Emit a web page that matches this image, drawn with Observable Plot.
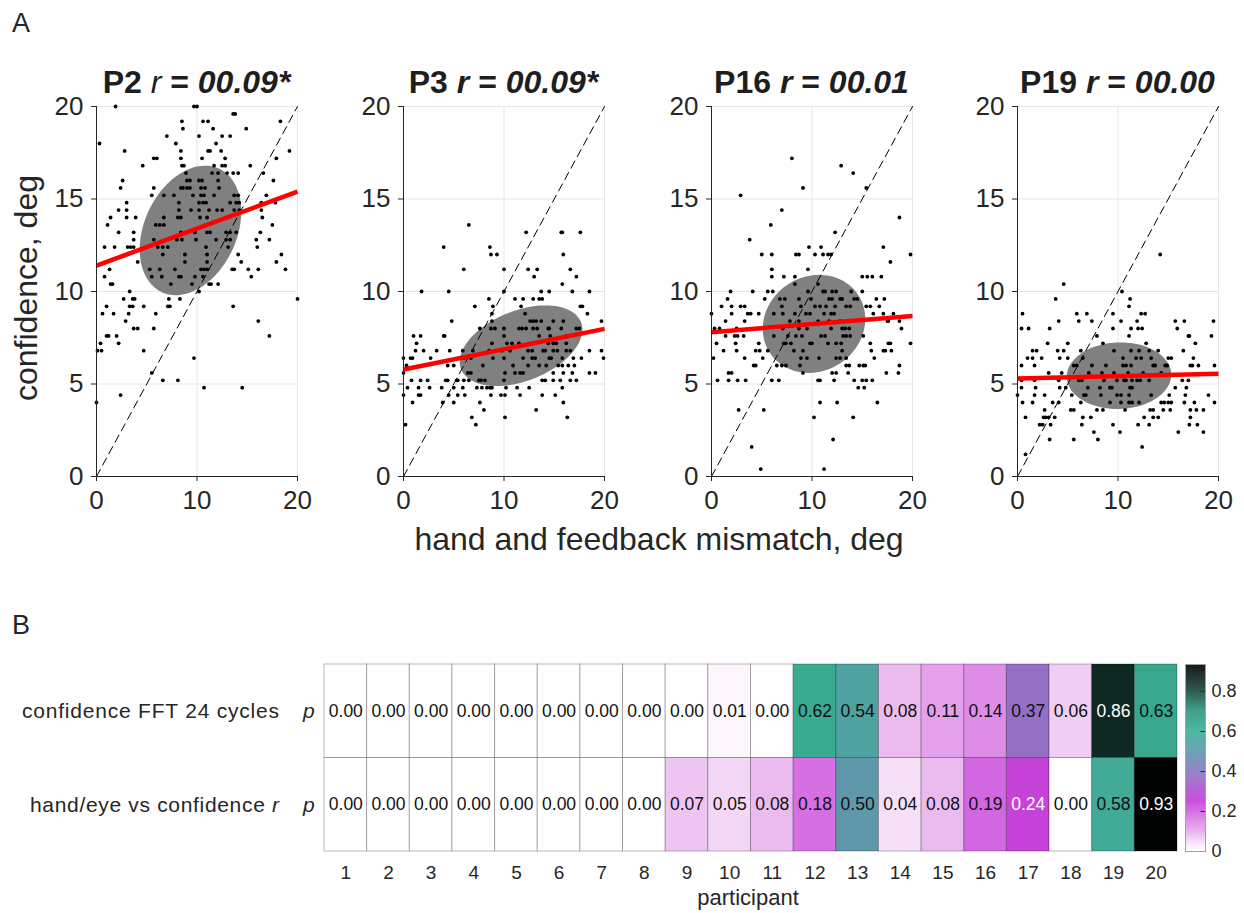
<!DOCTYPE html>
<html><head><meta charset="utf-8">
<script src="https://cdn.jsdelivr.net/npm/d3@7"></script>
<script src="https://cdn.jsdelivr.net/npm/@observablehq/plot@0.6"></script>
<style>
body{margin:0;background:#fff;}
#root{position:relative;width:1244px;height:913px;overflow:hidden;background:#fff;font-family:"Liberation Sans",Arial,Helvetica,sans-serif;}
</style></head><body><div id="root"></div>
<script>
// ---------- Panel A data ----------
const participants = ["P2", "P3", "P16", "P19"];
const rValues = ["00.09*", "00.09*", "00.01", "00.00"];
const axisRange = [0, 20];
const xTicks = [0, 10, 20];
const yTicks = [0, 5, 10, 15, 20];

const ptsP2 = [[1.9,20],[9.7,20],[10.0,20],[0.3,18.0],[10.6,19.2],[11.1,19.2],[13.8,19.6],[13.6,19.6],[18.3,19.2],[8.5,19.2],[8.6,18.8],[11.6,18.8],[14.9,18.8],[7.0,18.4],[10.2,18.4],[13.3,18.4],[7.9,18.0],[11.9,18.0],[12.5,18.4],[2.8,17.6],[8.4,17.6],[11.1,17.6],[11.3,17.6],[12.4,17.6],[19.2,17.6],[5.7,17.2],[6.0,17.2],[8.4,17.2],[10.5,17.2],[12.8,17.2],[17.9,17.2],[4.6,16.8],[8.5,16.8],[8.7,16.8],[11.7,16.8],[12.5,16.8],[12.8,16.8],[15.3,16.8],[8.9,16.4],[11.5,16.4],[12.1,16.4],[13.0,16.4],[13.6,16.4],[14.1,16.4],[16.6,16.4],[2.6,16.0],[9.0,16.0],[9.3,16.0],[10.2,16.0],[10.5,16.0],[12.1,16.0],[17.6,16.0],[2.4,15.6],[5.7,15.6],[8.4,15.6],[8.6,15.6],[9.0,15.6],[9.3,15.6],[10.4,15.6],[10.8,15.6],[12.2,15.6],[5.5,15.2],[6.7,15.2],[7.7,15.2],[9.6,15.2],[10.4,15.2],[10.7,15.2],[11.7,15.2],[13.7,15.2],[14.1,15.2],[16.9,15.2],[8.2,14.8],[10.2,14.8],[10.6,14.8],[10.9,14.8],[13.3,14.8],[13.9,14.8],[14.2,14.8],[3.0,14.8],[17.8,14.8],[16.4,14.8],[2.2,14.4],[3.0,14.4],[8.2,14.4],[9.4,14.4],[10.2,14.4],[11.2,14.4],[12.0,14.4],[12.5,14.4],[13.7,14.4],[14.2,14.4],[16.4,14.4],[1.4,14.0],[3.0,14.0],[3.9,14.0],[6.7,14.0],[8.1,14.0],[8.4,14.0],[10.3,14.0],[11.0,14.0],[13.0,14.0],[16.5,14.0],[1.1,13.6],[5.9,13.6],[6.3,13.6],[6.7,13.6],[10.9,13.6],[17.5,13.6],[2.2,13.2],[3.7,13.2],[8.4,13.2],[9.8,13.2],[11.0,13.2],[11.3,13.2],[12.9,13.2],[13.3,13.2],[13.9,13.2],[16.3,13.2],[3.7,12.8],[5.7,12.8],[8.0,12.8],[8.5,12.8],[9.9,12.8],[11.9,12.8],[12.9,12.8],[13.3,12.8],[15.9,12.8],[17.2,12.8],[0.8,12.4],[1.8,12.4],[3.1,12.4],[3.4,12.4],[3.7,12.4],[6.1,12.4],[6.6,12.4],[7.1,12.4],[10.9,12.4],[13.1,12.4],[16.0,12.4],[8.8,12.0],[11.0,12.0],[14.1,12.0],[18.4,12.0],[6.6,12.0],[4.1,11.6],[8.8,11.6],[11.0,11.6],[14.4,11.6],[17.9,11.6],[1.3,11.2],[5.3,11.2],[6.3,11.2],[7.8,11.2],[10.4,11.2],[10.7,11.2],[11.0,11.2],[13.5,11.2],[13.7,11.2],[15.1,11.2],[16.1,11.2],[18.8,11.2],[0.8,10.8],[5.5,10.8],[6.5,10.8],[8.2,10.8],[8.4,10.8],[9.8,10.8],[10.6,10.8],[15.4,10.8],[1.4,10.4],[1.6,10.4],[7.4,10.4],[9.5,10.4],[11.2,10.4],[11.4,10.4],[12.1,10.4],[3.3,10.0],[10.2,10.0],[2.7,9.6],[3.6,9.6],[3.8,9.6],[7.2,9.6],[8.3,9.6],[20.0,9.6],[1.0,9.2],[3.3,9.2],[3.6,9.2],[4.7,9.2],[7.1,9.2],[7.3,9.2],[13.6,9.2],[0.6,8.8],[1.7,8.8],[3.2,8.8],[5.9,8.8],[2.9,8.4],[16.1,8.4],[3.7,8.0],[4.1,8.0],[5.7,8.0],[1.0,7.6],[1.2,7.6],[2.0,7.6],[17.2,7.6],[2.2,7.2],[0.4,7.2],[0.1,6.8],[0.5,6.8],[4.7,6.8],[9.7,6.4],[5.5,5.6],[6.6,5.2],[8.1,5.2],[10.7,4.8],[14.5,4.8],[2.4,4.4],[0.0,4.0]];

const ptsP3 = [[6.5,13.6],[12.2,13.2],[15.7,13.2],[15.8,13.2],[17.6,13.2],[4.0,12.4],[8.6,12.4],[8.7,12.0],[9.3,12.0],[15.9,12.0],[6.0,11.2],[10.0,11.2],[12.4,11.2],[13.3,11.2],[16.6,11.2],[13.0,10.8],[17.2,10.8],[15.8,10.4],[1.8,10.0],[4.5,10.0],[10.0,10.0],[13.7,10.0],[14.5,10.0],[16.8,10.0],[18.5,10.0],[8.5,9.6],[11.1,9.6],[11.9,9.6],[12.9,9.6],[13.5,9.6],[13.8,9.6],[7.1,9.2],[8.9,9.2],[11.7,9.2],[17.6,9.2],[17.8,9.2],[8.8,8.8],[12.1,8.8],[18.3,8.8],[4.8,8.4],[8.8,8.4],[12.6,8.4],[12.9,8.4],[13.2,8.4],[13.7,8.4],[14.9,8.4],[15.9,8.4],[19.7,8.4],[7.6,8.0],[8.7,8.0],[9.1,8.0],[10.0,8.0],[11.5,8.0],[11.8,8.0],[12.2,8.0],[12.9,8.0],[13.3,8.0],[14.4,8.0],[14.5,8.0],[15.7,8.0],[17.2,8.0],[17.5,8.0],[1.0,7.6],[1.7,7.6],[4.0,7.6],[4.1,7.6],[10.0,7.6],[13.5,7.6],[14.6,7.6],[16.2,7.6],[1.3,7.2],[8.8,7.2],[10.3,7.2],[10.8,7.2],[11.5,7.2],[14.4,7.2],[14.9,7.2],[15.2,7.2],[16.2,7.2],[1.2,6.8],[2.0,6.8],[3.3,6.8],[4.6,6.8],[5.9,6.8],[6.9,6.8],[8.5,6.8],[9.8,6.8],[10.6,6.8],[12.4,6.8],[12.8,6.8],[13.9,6.8],[14.1,6.8],[14.9,6.8],[15.3,6.8],[16.2,6.8],[16.6,6.8],[18.5,6.8],[19.7,6.8],[0.0,6.4],[0.7,6.4],[0.9,6.4],[2.7,6.4],[6.0,6.4],[6.7,6.4],[8.9,6.4],[10.0,6.4],[11.9,6.4],[12.8,6.4],[13.1,6.4],[14.5,6.4],[14.7,6.4],[15.8,6.4],[16.9,6.4],[17.7,6.4],[19.9,6.4],[0.3,6.0],[4.4,6.0],[5.0,6.0],[7.9,6.0],[10.9,6.0],[12.4,6.0],[13.5,6.0],[14.2,6.0],[15.4,6.0],[15.8,6.0],[16.4,6.0],[17.0,6.0],[0.0,5.6],[6.4,5.6],[6.7,5.6],[10.1,5.6],[11.1,5.6],[11.6,5.6],[11.9,5.6],[14.9,5.6],[15.9,5.6],[16.8,5.6],[18.5,5.6],[19.1,5.6],[0.8,5.2],[1.7,5.2],[2.4,5.2],[4.2,5.2],[4.4,5.2],[5.3,5.2],[5.4,5.2],[6.0,5.2],[6.5,5.2],[7.5,5.2],[7.7,5.2],[8.1,5.2],[10.0,5.2],[13.8,5.2],[14.1,5.2],[14.9,5.2],[15.6,5.2],[16.6,5.2],[17.2,5.2],[0.4,4.8],[1.5,4.8],[2.6,4.8],[3.8,4.8],[5.0,4.8],[5.9,4.8],[7.3,4.8],[7.8,4.8],[8.3,4.8],[8.6,4.8],[8.8,4.8],[10.2,4.8],[11.3,4.8],[12.5,4.8],[15.8,4.8],[0.0,4.4],[1.5,4.4],[1.7,4.4],[4.5,4.4],[5.4,4.4],[6.1,4.4],[8.7,4.4],[9.7,4.4],[10.1,4.4],[11.6,4.4],[13.8,4.4],[15.1,4.4],[0.9,4.0],[3.9,4.0],[5.0,4.0],[7.6,4.0],[15.9,4.0],[8.0,3.6],[13.2,3.6],[6.8,3.2],[10.1,3.2],[16.3,3.2],[0.2,2.8],[7.2,2.8]];

const ptsP16 = [[8.0,17.2],[12.9,16.8],[14.1,16.4],[9.1,15.6],[15.4,15.6],[2.9,15.2],[7.0,14.4],[18.7,14.0],[5.9,13.6],[12.3,13.2],[3.8,12.8],[9.7,12.4],[10.9,12.4],[17.1,12.4],[5.0,12.0],[6.0,12.0],[8.4,12.0],[8.7,12.0],[10.3,12.0],[11.1,12.0],[11.6,12.0],[11.9,12.0],[19.8,12.0],[17.8,11.6],[6.0,11.2],[9.6,11.2],[6.0,10.8],[7.2,10.8],[8.3,10.8],[15.0,10.8],[15.5,10.8],[16.0,10.8],[16.9,10.8],[8.3,10.4],[10.6,10.4],[1.9,10.0],[4.1,10.0],[5.6,10.0],[6.1,10.0],[9.6,10.0],[11.1,10.0],[11.3,10.0],[12.0,10.0],[12.4,10.0],[13.9,10.0],[15.0,10.0],[1.6,9.6],[5.3,9.6],[6.8,9.6],[7.3,9.6],[8.7,9.6],[9.9,9.6],[11.7,9.6],[12.0,9.6],[12.8,9.6],[13.0,9.6],[14.2,9.6],[14.5,9.6],[16.4,9.6],[17.2,9.6],[1.0,9.2],[2.0,9.2],[2.9,9.2],[3.3,9.2],[7.0,9.2],[8.9,9.2],[10.3,9.2],[10.8,9.2],[11.4,9.2],[12.3,9.2],[13.4,9.2],[13.8,9.2],[15.4,9.2],[15.8,9.2],[16.7,9.2],[0.0,8.8],[2.0,8.8],[3.6,8.8],[3.9,8.8],[4.7,8.8],[6.2,8.8],[7.1,8.8],[8.3,8.8],[9.4,8.8],[9.8,8.8],[11.2,8.8],[11.9,8.8],[12.2,8.8],[16.1,8.8],[17.1,8.8],[18.1,8.8],[1.4,8.4],[3.3,8.4],[7.8,8.4],[8.7,8.4],[10.6,8.4],[11.7,8.4],[12.8,8.4],[14.0,8.4],[17.5,8.4],[17.6,8.4],[18.7,8.4],[0.3,8.0],[0.8,8.0],[2.5,8.0],[7.1,8.0],[8.7,8.0],[9.5,8.0],[11.9,8.0],[13.0,8.0],[13.3,8.0],[13.7,8.0],[18.9,8.0],[1.4,7.6],[2.3,7.6],[2.6,7.6],[3.2,7.6],[6.2,7.6],[7.6,7.6],[8.4,7.6],[9.0,7.6],[10.9,7.6],[11.3,7.6],[13.1,7.6],[13.4,7.6],[13.8,7.6],[15.1,7.6],[0.5,7.2],[2.4,7.2],[4.7,7.2],[7.2,7.2],[7.4,7.2],[7.9,7.2],[9.8,7.2],[10.0,7.2],[11.6,7.2],[12.4,7.2],[12.9,7.2],[15.8,7.2],[17.6,7.2],[17.8,7.2],[19.8,7.2],[1.2,6.8],[2.5,6.8],[4.4,6.8],[4.8,6.8],[5.6,6.8],[8.2,6.8],[9.1,6.8],[13.0,6.8],[15.9,6.8],[17.1,6.8],[17.3,6.8],[17.9,6.8],[0.2,6.4],[3.3,6.4],[5.1,6.4],[8.9,6.4],[9.5,6.4],[10.7,6.4],[12.4,6.4],[12.8,6.4],[13.4,6.4],[16.2,6.4],[4.2,6.0],[4.4,6.0],[6.5,6.0],[7.0,6.0],[7.4,6.0],[8.8,6.0],[13.4,6.0],[13.7,6.0],[14.7,6.0],[15.1,6.0],[15.3,6.0],[18.7,6.0],[1.7,5.6],[2.0,5.6],[9.1,5.6],[12.0,5.6],[12.4,5.6],[13.6,5.6],[17.4,5.6],[18.6,5.6],[0.6,5.2],[1.7,5.2],[2.6,5.2],[3.4,5.2],[6.0,5.2],[6.7,5.2],[10.6,5.2],[10.8,5.2],[12.2,5.2],[14.2,5.2],[15.0,5.2],[15.4,5.2],[16.0,5.2],[14.6,4.8],[15.2,4.8],[10.8,4.0],[12.5,4.0],[16.5,4.0],[2.7,3.6],[5.2,3.6],[10.2,3.2],[14.1,3.2],[12.1,2.0],[4.0,1.6],[4.9,0.4],[11.2,0.4]];

const ptsP19 = [[14.2,12.0],[4.6,10.4],[10.4,10.0],[3.8,9.6],[11.2,9.6],[11.1,9.2],[0.5,8.8],[5.9,8.8],[6.9,8.8],[9.5,8.8],[12.3,8.8],[12.7,8.8],[4.1,8.4],[6.1,8.4],[7.4,8.4],[10.3,8.4],[11.9,8.4],[15.7,8.4],[16.6,8.4],[19.5,8.4],[0.4,8.0],[1.1,8.0],[3.2,8.0],[9.5,8.0],[11.3,8.0],[12.0,8.0],[12.4,8.0],[15.9,8.0],[7.9,7.6],[11.1,7.6],[17.0,7.6],[17.1,7.6],[19.3,7.6],[3.0,7.2],[5.0,7.2],[8.5,7.2],[12.8,7.2],[17.7,7.2],[1.5,6.8],[1.9,6.8],[4.0,6.8],[4.6,6.8],[6.3,6.8],[9.6,6.8],[11.3,6.8],[12.1,6.8],[13.1,6.8],[14.0,6.8],[16.5,6.8],[1.0,6.4],[1.5,6.4],[2.4,6.4],[4.2,6.4],[5.0,6.4],[6.5,6.4],[10.5,6.4],[11.8,6.4],[12.3,6.4],[13.3,6.4],[15.0,6.4],[15.3,6.4],[17.5,6.4],[0.4,6.0],[1.7,6.0],[5.6,6.0],[5.9,6.0],[7.4,6.0],[8.8,6.0],[10.5,6.0],[10.8,6.0],[11.3,6.0],[13.5,6.0],[13.7,6.0],[14.7,6.0],[14.9,6.0],[17.2,6.0],[17.4,6.0],[18.0,6.0],[19.6,6.0],[3.1,5.6],[4.4,5.6],[7.1,5.6],[8.4,5.6],[9.6,5.6],[11.0,5.6],[12.5,5.6],[14.3,5.6],[0.4,5.2],[1.7,5.2],[4.1,5.2],[6.1,5.2],[6.4,5.2],[8.6,5.2],[9.9,5.2],[10.6,5.2],[10.8,5.2],[11.4,5.2],[11.9,5.2],[12.2,5.2],[13.1,5.2],[16.4,5.2],[17.0,5.2],[0.4,4.8],[1.8,4.8],[4.2,4.8],[4.8,4.8],[7.0,4.8],[8.2,4.8],[9.2,4.8],[9.4,4.8],[11.2,4.8],[11.4,4.8],[15.7,4.8],[16.8,4.8],[0.0,4.4],[1.7,4.4],[2.7,4.4],[5.4,4.4],[6.6,4.4],[6.8,4.4],[8.3,4.4],[9.9,4.4],[10.3,4.4],[11.1,4.4],[13.3,4.4],[15.1,4.4],[16.7,4.4],[19.0,4.4],[0.5,4.0],[1.5,4.0],[3.5,4.0],[4.1,4.0],[6.3,4.0],[9.2,4.0],[10.3,4.0],[11.1,4.0],[11.4,4.0],[12.1,4.0],[14.3,4.0],[14.6,4.0],[15.0,4.0],[15.3,4.0],[16.6,4.0],[17.6,4.0],[19.6,4.0],[2.7,3.6],[5.3,3.6],[5.6,3.6],[7.9,3.6],[8.5,3.6],[10.7,3.6],[13.2,3.6],[13.5,3.6],[14.5,3.6],[15.2,3.6],[17.2,3.6],[17.8,3.6],[18.5,3.6],[0.8,3.2],[2.6,3.2],[2.8,3.2],[3.1,3.2],[3.7,3.2],[6.5,3.2],[7.3,3.2],[12.6,3.2],[13.5,3.2],[14.0,3.2],[17.2,3.2],[2.2,2.8],[2.5,2.8],[3.3,2.8],[6.4,2.8],[9.5,2.8],[12.0,2.8],[13.1,2.8],[17.1,2.8],[17.9,2.8],[7.6,2.4],[10.2,2.4],[16.0,2.4],[18.5,2.4],[3.2,2.0],[5.6,2.0],[8.0,2.0],[12.4,1.6],[0.8,1.2]];

const panelPoints = [ptsP2, ptsP3, ptsP16, ptsP19];
// regression fits (intercept, slope)
const fitIntercept = [11.4, 5.78, 7.8, 5.3];
const fitSlope = [0.2, 0.11, 0.044, 0.0125];
// covariance ellipses: centre, spreads, correlation
const ellCx = [9.35, 11.7, 10.2, 10.1];
const ellCy = [13.3, 7.07, 8.25, 5.45];
const ellSx = [5.05, 6.1, 5.1, 5.2];
const ellSy = [3.5, 2.18, 2.65, 1.8];
const ellRho = [0.29, 0.4, 0.1, 0.03];

// ---------- Panel B data ----------
const participantNums = [1,2,3,4,5,6,7,8,9,10,11,12,13,14,15,16,17,18,19,20];
const rowLabels = ["confidence FFT 24 cycles", "hand/eye vs confidence r"];
const fftP  = [0.00,0.00,0.00,0.00,0.00,0.00,0.00,0.00,0.00,0.01,0.00,0.62,0.54,0.08,0.11,0.14,0.37,0.06,0.86,0.63];
const corrP = [0.00,0.00,0.00,0.00,0.00,0.00,0.00,0.00,0.07,0.05,0.08,0.18,0.50,0.04,0.08,0.19,0.24,0.00,0.58,0.93];
const colorbarTicks = [0, 0.2, 0.4, 0.6, 0.8];
const colorMax = 0.935;
const cStops  = [0, 0.05, 0.1, 0.15, 0.2, 0.25, 0.37, 0.5, 0.6, 0.7, 0.8, 0.935];
const cColors = ["#ffffff","#f3d8f5","#e6a8ec","#dc86e6","#d060e0","#c43cd8","#9470c4","#5e98aa","#3ab094","#30967e","#1a4a3e","#000000"];

// ---------- rendering ----------
const FONT = '"Liberation Sans", Arial, Helvetica, sans-serif';
const INK = "#262626";
const root = document.getElementById("root");
function place(el, left, top) {
  el.style.position = "absolute";
  el.style.left = left + "px";
  el.style.top = top + "px";
  root.appendChild(el);
}

const plotLefts = [96, 403, 711, 1017];
const PW = 201, PT = 106, PH = 370;
const ML = 90, MR = 15, MT = 10, MB = 50;

participants.forEach((name, i) => {
  const phi = Math.acos(ellRho[i]);
  const ell = d3.range(0, 360, 3).map(a => {
    const t = a * Math.PI / 180;
    return {x: ellCx[i] + ellSx[i] * Math.cos(t), y: ellCy[i] + ellSy[i] * Math.cos(t - phi)};
  });
  const fit = axisRange.map(x => ({x, y: fitIntercept[i] + fitSlope[i] * x}));
  const diag = axisRange.map(v => ({x: v, y: v}));
  const chart = Plot.plot({
    width: ML + PW + MR, height: MT + PH + MB,
    marginLeft: ML, marginRight: MR, marginTop: MT, marginBottom: MB,
    style: {background: "transparent", fontFamily: FONT, fontSize: "26px", color: INK, overflow: "visible"},
    x: {domain: axisRange, ticks: xTicks, tickSize: 5, tickPadding: 9, label: null},
    y: {domain: axisRange, ticks: yTicks, tickSize: 5, tickPadding: 8, label: null},
    marks: [
      Plot.ruleX([10, 20], {stroke: "#e6e6e6"}),
      Plot.ruleY([5, 10, 15, 20], {stroke: "#e6e6e6"}),
      Plot.line(ell, {x: "x", y: "y", fill: "#808080", stroke: "none", curve: "linear-closed"}),
      Plot.line(diag, {x: "x", y: "y", stroke: "#000", strokeWidth: 1, strokeDasharray: "8,5"}),
      Plot.dot(panelPoints[i], {x: d => d[0], y: d => d[1], r: 1.9, fill: "#000", stroke: "none"}),
      Plot.line(fit, {x: "x", y: "y", stroke: "#ff0000", strokeWidth: 4.5, strokeLinecap: "butt"}),
      Plot.ruleX([0], {stroke: INK}),
      Plot.ruleY([0], {stroke: INK})
    ]
  });
  place(chart, plotLefts[i] - ML, PT - MT);
});

// heatmap
const cells = [];
participantNums.forEach((p, j) => {
  cells.push({participant: p, row: rowLabels[0], value: fftP[j]});
  cells.push({participant: p, row: rowLabels[1], value: corrP[j]});
});
const cmap = d3.scaleLinear().domain(cStops).range(cColors).interpolate(d3.interpolateRgb);
function isDark(v) {
  const c = d3.rgb(cmap(v));
  return (0.299 * c.r + 0.587 * c.g + 0.114 * c.b) / 255 < 0.5;
}
const colorOpts = {type: "linear", domain: cStops, range: cColors};
const heat = Plot.plot({
  width: 1244, height: 313,
  marginLeft: 324, marginRight: 67, marginTop: 64, marginBottom: 62,
  style: {background: "transparent", fontFamily: FONT, fontSize: "19px", color: INK},
  x: {type: "band", domain: participantNums, padding: 0, round: false, tickSize: 0, tickPadding: 14, label: null},
  y: {type: "band", domain: rowLabels, padding: 0, round: false, axis: null},
  color: colorOpts,
  marks: [
    Plot.cell(cells, {x: "participant", y: "row", fill: "value", stroke: "#000", strokeOpacity: 0.28, strokeWidth: 1, inset: 0}),
    Plot.text(cells.filter(d => !isDark(d.value)), {x: "participant", y: "row", text: d => d.value.toFixed(2), fill: "#111", fontSize: 17.5}),
    Plot.text(cells.filter(d => isDark(d.value)), {x: "participant", y: "row", text: d => d.value.toFixed(2), fill: "#fff", fontSize: 17.5})
  ]
});
place(heat, 0, 600);

// colorbar
const step = 0.0025;
const cbar = d3.range(0, colorMax, step).map(v => ({y1: v, y2: Math.min(colorMax, v + step * 1.5)}));
const cb = Plot.plot({
  width: 74, height: 215,
  marginLeft: 15, marginRight: 39, marginTop: 14, marginBottom: 14,
  style: {background: "transparent", fontFamily: FONT, fontSize: "18px", color: INK, overflow: "visible"},
  x: {domain: [0, 1], axis: null},
  y: {domain: [0, colorMax], ticks: colorbarTicks, tickSize: 0, tickPadding: 6, axis: "right", label: null,
      tickFormat: d => d === 0 ? "0" : d.toFixed(1)},
  color: colorOpts,
  marks: [
    Plot.rect(cbar, {x1: 0, x2: 1, y1: "y1", y2: "y2", fill: "y1"}),
    Plot.ruleY(colorbarTicks.slice(1), {x1: 0.78, x2: 1, stroke: INK}),
    Plot.frame({stroke: "#a0a0a0"})
  ]
});
place(cb, 1170, 650);

// text overlay
const titleParts = participants.map((name, i) => {
  const cx = plotLefts[i] + PW / 2;
  const rw = i === 0 ? "normal" : "bold";
  return `<text x="${cx}" y="93" text-anchor="middle" font-size="32" font-weight="bold" fill="#1e1e1e">${name} <tspan font-style="italic" font-weight="${rw}">r</tspan> = <tspan font-style="italic">${rValues[i]}</tspan></text>`;
}).join("");
const ns = "http://www.w3.org/2000/svg";
const overlay = document.createElementNS(ns, "svg");
overlay.setAttribute("width", 1244);
overlay.setAttribute("height", 913);
overlay.style.pointerEvents = "none";
overlay.setAttribute("font-family", FONT);
overlay.setAttribute("fill", INK);
overlay.innerHTML = `
  <text x="12" y="32" font-size="27">A</text>
  <text x="12" y="634" font-size="27">B</text>
  ${titleParts}
  <text transform="translate(37,288) rotate(-90)" text-anchor="middle" font-size="32">confidence, deg</text>
  <text x="659" y="550" text-anchor="middle" font-size="32">hand and feedback mismatch, deg</text>
  <text x="279" y="718" text-anchor="end" font-size="21" textLength="257" lengthAdjust="spacing">${rowLabels[0]}</text>
  <text x="279" y="811.5" text-anchor="end" font-size="21" textLength="249" lengthAdjust="spacing">${rowLabels[1].slice(0, -1)}<tspan font-style="italic">${rowLabels[1].slice(-1)}</tspan></text>
  <text x="303" y="718" font-size="21" font-style="italic">p</text>
  <text x="303" y="811.5" font-size="21" font-style="italic">p</text>
  <text x="748" y="905" text-anchor="middle" font-size="22">participant</text>
`;
place(overlay, 0, 0);
</script>
</body></html>
